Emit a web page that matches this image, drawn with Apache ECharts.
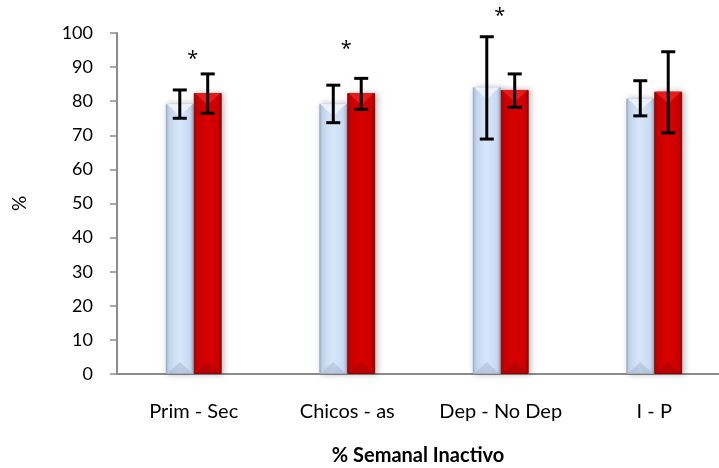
<!DOCTYPE html>
<html>
<head>
<meta charset="utf-8">
<script src="https://cdn.jsdelivr.net/npm/echarts@6/dist/echarts.min.js"></script>
<style>
  html, body { margin: 0; padding: 0; background: #fff; }
  #chart { width: 719px; height: 468px; }
</style>
</head>
<body>
<div id="chart"></div>
<script>
// Categories along the x axis
const categories = ['Prim - Sec', 'Chicos - as', 'Dep - No Dep', 'I - P'];
// First group (light blue) mean and error range
const blueValues = [79.2, 79.2, 84.1, 80.8];
const blueLow = [75.0, 73.7, 68.9, 75.7];
const blueHigh = [83.3, 84.7, 98.9, 86.0];
// Second group (red) mean and error range
const redValues = [82.4, 82.4, 83.3, 82.8];
const redLow = [76.5, 77.6, 78.2, 70.7];
const redHigh = [88.0, 86.7, 88.0, 94.5];
// Significance markers above each pair
const starText = ['*', '*', '*', ''];
const starLevel = [93.5, 96.5, 106, null];
// Y axis ticks
const yMin = 0, yMax = 100, yStep = 10;

const BAR_RATIO = 0.182;
const FONT = 'Lato, "Open Sans", sans-serif';

const chart = echarts.init(document.getElementById('chart'), null, { renderer: 'canvas' });

function barWidth(api) {
  return api.size([1, 0])[0] * BAR_RATIO;
}

// Error bar: vertical whisker with horizontal caps
function errorRenderer(lows, highs, side) {
  return function (params, api) {
    const i = api.value(0);
    const w = barWidth(api);
    const cx = api.coord([i, 0])[0] + side * w / 2;
    const top = api.coord([i, highs[i]])[1];
    const bot = api.coord([i, lows[i]])[1];
    const cap = 7;
    const style = { stroke: '#000', lineWidth: 3 };
    return {
      type: 'group',
      children: [
        { type: 'line', shape: { x1: cx, y1: top, x2: cx, y2: bot }, style: style },
        { type: 'line', shape: { x1: cx - cap, y1: top, x2: cx + cap, y2: top }, style: style },
        { type: 'line', shape: { x1: cx - cap, y1: bot, x2: cx + cap, y2: bot }, style: style }
      ]
    };
  };
}

// Bevel highlights on top and bottom of each bar
function bevelRenderer(vals, side, topColor, botColor) {
  return function (params, api) {
    const i = api.value(0);
    const w = barWidth(api);
    const x0 = api.coord([i, 0])[0] + (side < 0 ? -w : 0);
    const yTop = api.coord([i, vals[i]])[1];
    const yBot = api.coord([i, 0])[1];
    const d = 12;
    return {
      type: 'group',
      children: [
        { type: 'polygon', shape: { points: [[x0 + 1, yTop], [x0 + w - 1, yTop], [x0 + w / 2, yTop + d]] },
          style: { fill: topColor } },
        { type: 'polygon', shape: { points: [[x0 + 1, yBot], [x0 + w - 1, yBot], [x0 + w / 2, yBot - d]] },
          style: { fill: botColor } }
      ]
    };
  };
}

function starRenderer(params, api) {
  const i = api.value(0);
  if (starLevel[i] == null) return null;
  const p = api.coord([i, starLevel[i]]);
  return {
    type: 'text',
    x: p[0] - 1, y: p[1] + 4,
    style: { text: starText[i], fill: '#000', font: '20px "Open Sans", sans-serif', align: 'center', verticalAlign: 'middle' }
  };
}

const idx = categories.map((c, i) => [i]);

const blueGrad = new echarts.graphic.LinearGradient(0, 0, 1, 0, [
  { offset: 0, color: '#a3b6d0' },
  { offset: 0.12, color: '#c9dbf2' },
  { offset: 0.5, color: '#d6e6fb' },
  { offset: 0.88, color: '#c9dbf2' },
  { offset: 1, color: '#a9bbd5' }
]);
const redGrad = new echarts.graphic.LinearGradient(0, 0, 1, 0, [
  { offset: 0, color: '#a50000' },
  { offset: 0.12, color: '#cc0000' },
  { offset: 0.5, color: '#d80000' },
  { offset: 0.88, color: '#cc0000' },
  { offset: 1, color: '#9a0000' }
]);

chart.setOption({
  animation: false,
  backgroundColor: '#fff',
  grid: { left: 117, top: 33, bottom: 94, right: -12, containLabel: false, outerBoundsMode: 'none' },
  xAxis: {
    type: 'category',
    data: categories,
    axisLine: { show: true, lineStyle: { color: '#8c8c8c', width: 2 } },
    axisTick: { show: false },
    axisLabel: { color: '#000', fontSize: 20, fontFamily: FONT, margin: 28, interval: 0, hideOverlap: false },
    name: '% Semanal Inactivo',
    nameLocation: 'middle',
    nameGap: 72,
    nameTextStyle: { color: '#000', fontSize: 20, fontWeight: 'bold', fontFamily: FONT, padding: [0, 12, 0, 0] }
  },
  yAxis: {
    type: 'value',
    min: yMin, max: yMax, interval: yStep,
    axisLine: { show: true, lineStyle: { color: '#8c8c8c', width: 2 } },
    axisTick: { show: true, inside: false, length: 7, lineStyle: { color: '#8c8c8c', width: 1.5 } },
    splitLine: { show: false },
    axisLabel: { color: '#000', fontSize: 18, fontFamily: FONT, margin: 24 },
    name: '%',
    nameLocation: 'middle',
    nameRotate: 90,
    nameGap: 88,
    nameTextStyle: { color: '#000', fontSize: 19, fontFamily: FONT }
  },
  series: [
    {
      type: 'bar', data: blueValues, barWidth: (BAR_RATIO * 100) + '%', barGap: '0%',
      itemStyle: { color: blueGrad, borderColor: '#9aaecb', borderWidth: 1,
                   shadowColor: 'rgba(0,0,0,0.25)', shadowBlur: 6, shadowOffsetX: 2 }
    },
    {
      type: 'bar', data: redValues, barWidth: (BAR_RATIO * 100) + '%', barGap: '0%',
      itemStyle: { color: redGrad, borderColor: '#8e0000', borderWidth: 1,
                   shadowColor: 'rgba(0,0,0,0.25)', shadowBlur: 6, shadowOffsetX: 2 }
    },
    { type: 'custom', data: idx, renderItem: bevelRenderer(blueValues, -1, 'rgba(238,245,255,0.9)', 'rgba(160,176,200,0.45)'), z: 3, silent: true },
    { type: 'custom', data: idx, renderItem: bevelRenderer(redValues, 1, 'rgba(235,30,30,0.9)', 'rgba(150,0,0,0.45)'), z: 3, silent: true },
    { type: 'custom', data: idx, renderItem: errorRenderer(blueLow, blueHigh, -1), z: 5, silent: true },
    { type: 'custom', data: idx, renderItem: errorRenderer(redLow, redHigh, 1), z: 5, silent: true },
    { type: 'custom', data: idx, renderItem: starRenderer, z: 6, silent: true, clip: false }
  ]
});
</script>
</body>
</html>
